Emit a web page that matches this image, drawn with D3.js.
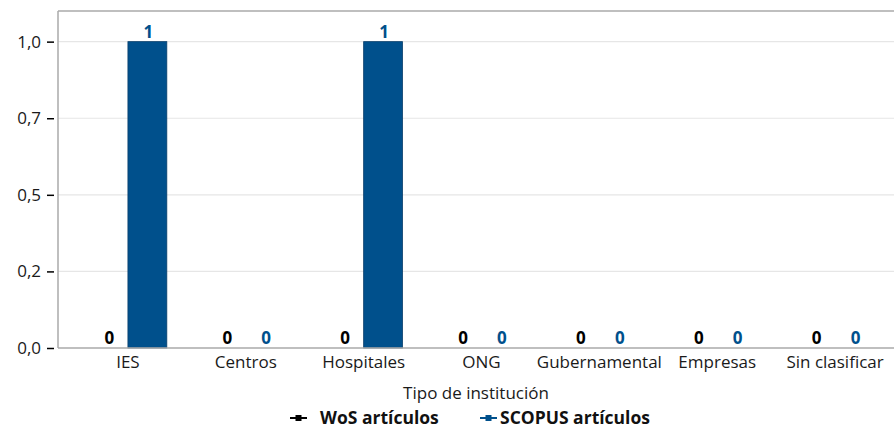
<!DOCTYPE html>
<html><head><meta charset="utf-8">
<script src="https://cdn.jsdelivr.net/npm/d3@7"></script>
<style>body{margin:0;background:#fff}svg{display:block;font-family:"Open Sans",sans-serif}</style>
</head><body><svg id="c" width="894" height="428"></svg>
<script>
const categories = ["IES","Centros","Hospitales","ONG","Gubernamental","Empresas","Sin clasificar"];
const series = ["WoS artículos","SCOPUS artículos"];
const wosValues = [0,0,0,0,0,0,0];
const scopusValues = [1,0,1,0,0,0,0];
const tickValues = [0,0.25,0.5,0.75,1.0];
const tickLabels = ["0,0","0,2","0,5","0,7","1,0"];
const colors = ["#000000","#00508C"];
const xTitle = "Tipo de institución";

const svg = d3.select("#c");
const m = {left:58, top:11, right:894, bottom:348};
const y = d3.scaleLinear().domain([0,1.1]).range([m.bottom,m.top]);
const x0 = d3.scaleBand().domain(categories).range([69,894]).paddingInner(0.34).paddingOuter(0.17);
const x1 = d3.scaleBand().domain(series).range([0,x0.bandwidth()]);

// gridlines
svg.append("g").selectAll("line").data(tickValues.slice(1)).join("line")
  .attr("x1",m.left).attr("x2",m.right).attr("y1",d=>y(d)).attr("y2",d=>y(d))
  .attr("stroke","#e6e6e6").attr("stroke-width",1.2);

// top border
svg.append("line").attr("x1",m.left).attr("x2",m.right).attr("y1",m.top).attr("y2",m.top)
  .attr("stroke","#aaaaaa").attr("stroke-width",1.5);

// y axis
const yAxis = d3.axisLeft(y).tickValues(tickValues).tickFormat((d,i)=>tickLabels[i]).tickSize(7).tickPadding(6);
const ga = svg.append("g").attr("transform",`translate(${m.left-4},0)`).call(yAxis);
ga.select(".domain").remove();
ga.selectAll(".tick line").attr("stroke","#000").attr("stroke-width",1.5);
ga.selectAll(".tick text").attr("font-size",17).attr("fill","#1a1a1a").attr("font-family","Open Sans");
svg.append("line").attr("x1",m.left).attr("x2",m.left).attr("y1",m.top).attr("y2",m.bottom)
  .attr("stroke","#aaaaaa").attr("stroke-width",1.5);

const data = categories.map((c,i)=>({cat:c, vals:[wosValues[i],scopusValues[i]]}));
const groups = svg.append("g").selectAll("g").data(data).join("g")
  .attr("transform",d=>`translate(${x0(d.cat)},0)`);

groups.selectAll("rect").data(d=>d.vals.map((v,j)=>({s:series[j],v,j}))).join("rect")
  .attr("x",d=>x1(d.s)).attr("width",x1.bandwidth())
  .attr("y",d=>y(d.v)).attr("height",d=>y(0)-y(d.v))
  .attr("fill",d=>colors[d.j]).attr("stroke",d=>d.v>0?"#0a3f6b":"none").attr("stroke-width",0.8);

groups.selectAll("text").data(d=>d.vals.map((v,j)=>({s:series[j],v,j}))).join("text")
  .attr("x",d=>x1(d.s)+x1.bandwidth()/2+1).attr("y",d=>y(d.v)-4)
  .attr("text-anchor","middle").attr("font-size",17).attr("font-weight","bold")
  .attr("fill",d=>colors[d.j]).text(d=>d3.format("d")(d.v));

// x axis
svg.append("line").attr("x1",m.left).attr("x2",m.right).attr("y1",m.bottom).attr("y2",m.bottom)
  .attr("stroke","#aaaaaa").attr("stroke-width",1.5);
const xAxis = d3.axisBottom(x0).tickSize(0).tickPadding(8);
const gx = svg.append("g").attr("transform",`translate(0,${m.bottom})`).call(xAxis);
gx.select(".domain").remove();
gx.selectAll(".tick text").attr("font-size",17).attr("fill","#1a1a1a").attr("font-family","Open Sans");

svg.append("text").attr("x",476).attr("y",399).attr("text-anchor","middle")
  .attr("font-size",17).attr("fill","#1a1a1a").text(xTitle);

// legend
const leg = svg.append("g");
const legX = [290,480];
series.forEach((s,i)=>{
  const g = leg.append("g").attr("transform",`translate(${legX[i]},418)`);
  g.append("line").attr("x1",0).attr("x2",17).attr("y1",0).attr("y2",0).attr("stroke",colors[i]).attr("stroke-width",2);
  g.append("rect").attr("x",5.5).attr("y",-3).attr("width",6).attr("height",6).attr("fill",colors[i]);
  g.append("text").attr("x",i===0?30:20).attr("y",6).attr("font-size",17.5).attr("font-weight","bold").attr("fill","#111").text(s);
});
</script></body></html>
